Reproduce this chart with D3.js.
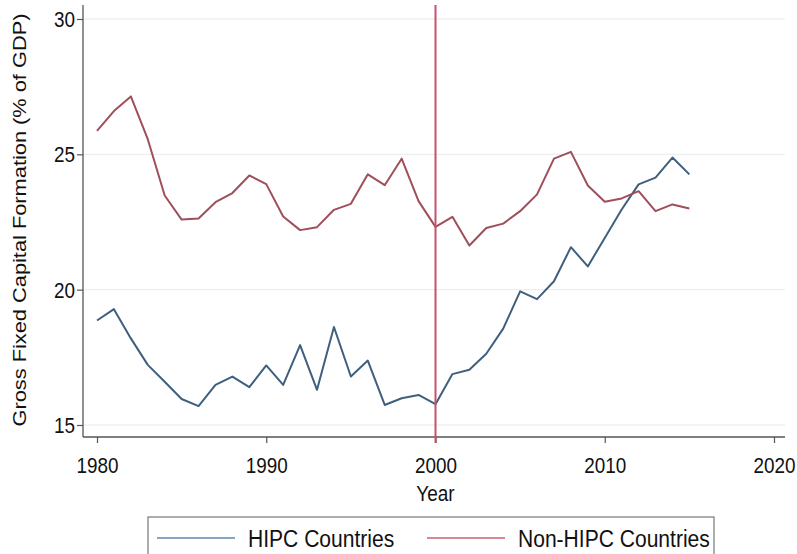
<!DOCTYPE html>
<html>
<head>
<meta charset="utf-8">
<script src="https://cdn.jsdelivr.net/npm/d3@7"></script>
<style>
  html, body { margin: 0; padding: 0; background: #fff; }
  svg { display: block; font-family: "Liberation Sans", Arial, sans-serif; }
</style>
</head>
<body>
<svg id="chart" width="797" height="554"></svg>
<script>
// Gross fixed capital formation (% of GDP), 1980–2015
const years = d3.range(1980, 2016);
const hipc = [18.86, 19.28, 18.2, 17.22, 16.6, 15.96, 15.70, 16.48, 16.79, 16.4,
              17.2, 16.48, 17.95, 16.3, 18.62, 16.79, 17.38, 15.74, 15.99, 16.11,
              15.77, 16.88, 17.04, 17.63, 18.56, 19.94, 19.65, 20.31, 21.57, 20.86,
              21.91, 22.96, 23.89, 24.14, 24.88, 24.26];
const nonHipc = [25.87, 26.6, 27.14, 25.56, 23.48, 22.59, 22.63, 23.23, 23.57, 24.22,
                 23.9, 22.7, 22.2, 22.31, 22.95, 23.17, 24.26, 23.86, 24.84, 23.27,
                 22.32, 22.69, 21.63, 22.28, 22.44, 22.9, 23.52, 24.84, 25.09, 23.85,
                 23.25, 23.37, 23.64, 22.9, 23.15, 23.0];
const xTicks = [1980, 1990, 2000, 2010, 2020];
const yTicks = [15, 20, 25, 30];
const markerYear = 2000;
const seriesNames = ["HIPC Countries", "Non-HIPC Countries"];
const seriesColors = ["#3f5f7f", "#9f4f5a"];
const legendColors = ["#5f86ad", "#cc5f6e"];

// text is drawn slightly condensed horizontally
const squeeze = 0.87;

const svg = d3.select("#chart");
const plotL = 83, plotR = 785, plotT = 5, plotB = 437;

const x = d3.scaleLinear().domain([1980, 2020]).range([97, 774]);
const y = d3.scaleLinear().domain([15, 30]).range([425, 19]);

// horizontal grid
svg.append("g").selectAll("line").data(yTicks).join("line")
  .attr("x1", plotL).attr("x2", plotR)
  .attr("y1", d => y(d)).attr("y2", d => y(d))
  .attr("stroke", "#eceff0").attr("stroke-width", 1.3);

// axes
const yAxis = d3.axisLeft(y).tickValues(yTicks).tickSize(6).tickPadding(0);
const gy = svg.append("g").attr("transform", `translate(${plotL},0)`).call(yAxis);
gy.select(".domain").attr("d", `M0,${plotT}V${plotB}`);
gy.selectAll(".tick text")
  .attr("x", 0).attr("dy", null).attr("y", 0)
  .attr("transform", `translate(-8,7.5) scale(${squeeze},1)`);

const xAxis = d3.axisBottom(x).tickValues(xTicks).tickFormat(d3.format("d")).tickSize(6).tickPadding(0);
const gx = svg.append("g").attr("transform", `translate(0,${plotB})`).call(xAxis);
gx.select(".domain").attr("d", `M${plotL},0H${plotR}`);
gx.selectAll(".tick text")
  .attr("y", 0).attr("dy", null)
  .attr("transform", `translate(0,36) scale(${squeeze},1)`);

[gx, gy].forEach(g => {
  g.selectAll(".domain").attr("stroke", "#555").attr("stroke-width", 1.3);
  g.selectAll(".tick line").attr("stroke", "#555").attr("stroke-width", 1.2);
  g.selectAll("text").attr("font-size", 21.7).attr("fill", "#111")
    .attr("font-family", "Liberation Sans, Arial, sans-serif");
});

// axis titles
svg.append("g")
  .attr("transform", `translate(26,220) scale(${squeeze},1)`)
  .append("text")
  .attr("transform", "rotate(-90)")
  .attr("text-anchor", "middle").attr("font-size", 21.8).attr("fill", "#111")
  .text("Gross Fixed Capital Formation (% of GDP)");
svg.append("g")
  .attr("transform", `translate(${x(2000)},501) scale(${squeeze},1)`)
  .append("text")
  .attr("text-anchor", "middle").attr("font-size", 21.8).attr("fill", "#111").text("Year");

// series lines
const line = d3.line().x((d, i) => x(years[i])).y(d => y(d));
[hipc, nonHipc].forEach((s, k) => {
  svg.append("path").datum(s)
    .attr("d", line).attr("fill", "none")
    .attr("stroke", seriesColors[k]).attr("stroke-width", 2)
    .attr("stroke-linejoin", "round");
});

// reference line at 2000
svg.append("line")
  .attr("x1", x(markerYear)).attr("x2", x(markerYear))
  .attr("y1", plotT).attr("y2", plotB + 6)
  .attr("stroke", "#c7506f").attr("stroke-width", 2);

// legend
const lg = svg.append("g");
lg.append("rect").attr("x", 148).attr("y", 517).attr("width", 566).attr("height", 45)
  .attr("fill", "#fff").attr("stroke", "#777").attr("stroke-width", 1.2);
const legendX = [157, 427];
seriesNames.forEach((name, k) => {
  lg.append("line").attr("x1", legendX[k]).attr("x2", legendX[k] + 78)
    .attr("y1", 538).attr("y2", 538)
    .attr("stroke", legendColors[k]).attr("stroke-width", 1.6);
  lg.append("g")
    .attr("transform", `translate(${legendX[k] + 91},546.5) scale(${squeeze},1)`)
    .append("text")
    .attr("font-size", 24.2).attr("fill", "#111").text(name);
});
</script>
</body>
</html>
